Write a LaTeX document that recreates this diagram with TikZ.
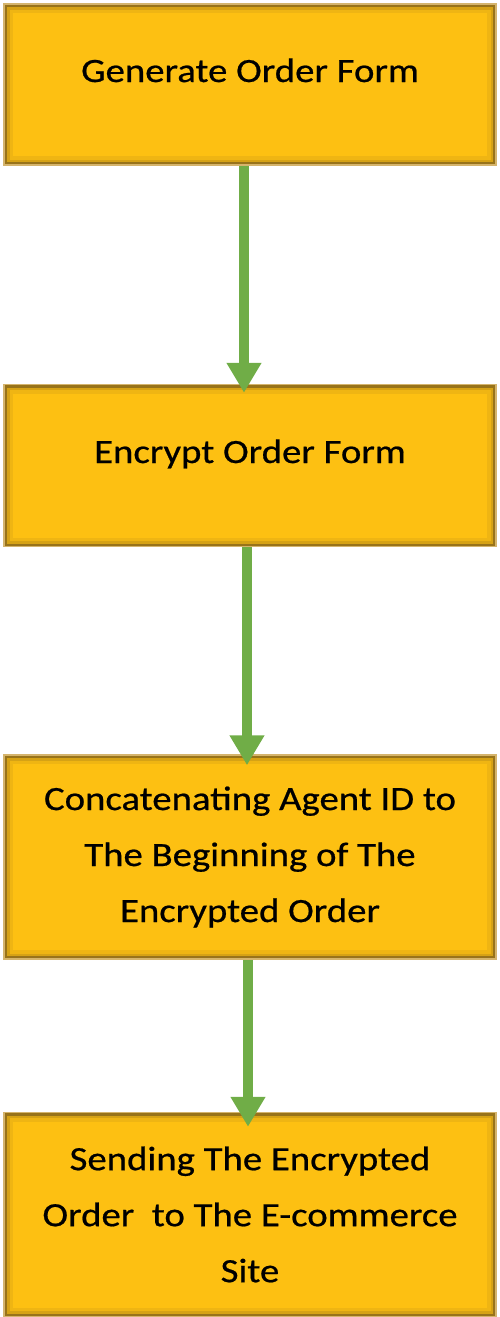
\documentclass[tikz,border=0pt]{standalone}
\usepackage{fontspec}
\setmainfont{Carlito}[FakeStretch=1.14, FakeBold=0.6]
\usepackage{xcolor}
\usepackage{tikz}
\usetikzlibrary{arrows.meta,positioning}
\definecolor{OrderGold}{HTML}{FDC012}
\definecolor{OrderEdge}{HTML}{D5B46C}
\definecolor{OrderShade}{HTML}{8E6B1C}
\definecolor{OrderGreen}{HTML}{70AD47}
\tikzset{
  stepbox/.style={draw=OrderEdge, line width=1.5pt, fill=OrderGold,
    align=center, minimum width=492pt, inner sep=2pt,
    font=\fontsize{34}{56}\selectfont,
    path picture={
      \draw[line width=18pt, draw=OrderShade, opacity=0.12]
        (path picture bounding box.south west) rectangle (path picture bounding box.north east);
      \draw[line width=11pt, draw=OrderShade, opacity=0.25]
        (path picture bounding box.south west) rectangle (path picture bounding box.north east);
      \draw[line width=6pt, draw=OrderShade, opacity=0.85]
        (path picture bounding box.south west) rectangle (path picture bounding box.north east);
    }},
  topstep/.style={stepbox, text height=24pt, text depth=29pt},
  flow/.style={-{Triangle[width=33pt, length=30pt]}, line width=10pt, draw=OrderGreen}
}
\begin{document}
\begin{tikzpicture}
  \useasboundingbox (0,0) rectangle (500pt,-1317pt);
  \node[topstep, minimum height=161pt] (generate) at (250pt,-84.5pt) {Generate Order Form};
  \node[topstep, minimum height=162pt, below=218pt of generate] (encrypt) {Encrypt Order Form};
  \node[stepbox, minimum height=204pt, below=207pt of encrypt] (concat)
    {Concatenating Agent ID to\\The Beginning of The\\Encrypted Order};
  \node[stepbox, minimum height=204pt, below=152pt of concat] (send)
    {Sending The Encrypted\\Order\ \ to The E-commerce\\Site};
  \draw[flow] ([xshift=-6pt]generate.south) -- ([xshift=-6pt, yshift=-9pt]encrypt.north);
  \draw[flow] ([xshift=-3pt]encrypt.south) -- ([xshift=-3pt, yshift=-11pt]concat.north);
  \draw[flow] ([xshift=-2pt]concat.south) -- ([xshift=-2pt, yshift=-15pt]send.north);
\end{tikzpicture}
\end{document}
